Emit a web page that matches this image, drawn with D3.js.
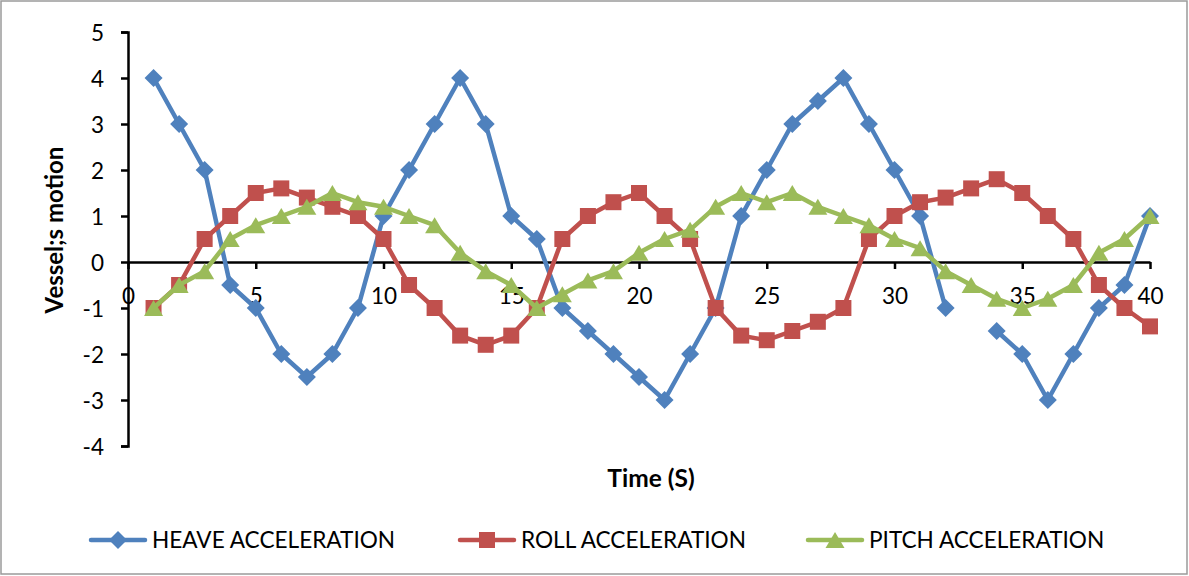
<!DOCTYPE html>
<html>
<head>
<meta charset="utf-8">
<script src="https://cdn.jsdelivr.net/npm/d3@7"></script>
<style>
  html, body { margin: 0; padding: 0; background: #fff; }
  svg { display: block; font-family: Lato, "Open Sans", sans-serif; }
</style>
</head>
<body>
<svg id="chart" width="1189" height="576"></svg>
<script>
// ---- data ----
const time = [1,2,3,4,5,6,7,8,9,10,11,12,13,14,15,16,17,18,19,20,21,22,23,24,25,26,27,28,29,30,31,32,33,34,35,36,37,38,39,40];
const heave = [4,3,2,-0.5,-1,-2,-2.5,-2,-1,1,2,3,4,3,1,0.5,-1,-1.5,-2,-2.5,-3,-2,-1,1,2,3,3.5,4,3,2,1,-1,null,-1.5,-2,-3,-2,-1,-0.5,1];
const roll = [-1,-0.5,0.5,1,1.5,1.6,1.4,1.2,1,0.5,-0.5,-1,-1.6,-1.8,-1.6,-1,0.5,1,1.3,1.5,1,0.5,-1,-1.6,-1.7,-1.5,-1.3,-1,0.5,1,1.3,1.4,1.6,1.8,1.5,1,0.5,-0.5,-1,-1.4];
const pitch = [-1,-0.5,-0.2,0.5,0.8,1,1.2,1.5,1.3,1.2,1,0.8,0.2,-0.2,-0.5,-1,-0.7,-0.4,-0.2,0.2,0.5,0.7,1.2,1.5,1.3,1.5,1.2,1,0.8,0.5,0.3,-0.2,-0.5,-0.8,-1,-0.8,-0.5,0.2,0.5,1];
const seriesNames = ["HEAVE ACCELERATION", "ROLL ACCELERATION", "PITCH ACCELERATION"];
const xTicks = [0,5,10,15,20,25,30,35,40];
const yTicks = [-4,-3,-2,-1,0,1,2,3,4,5];
const xTitle = "Time (S)";
const yTitle = "Vessel;s motion";

// ---- styling / layout ----
const colors = ["#4F81BD", "#C0504D", "#9BBB59"];
const markers = ["diamond", "square", "triangle"];
const svg = d3.select("#chart");

svg.append("rect").attr("x", 1).attr("y", 1).attr("width", 1186).attr("height", 573)
  .attr("fill", "#fff").attr("stroke", "#9a9a9a").attr("stroke-width", 1.5);

const x = d3.scaleLinear().domain([0, 40]).range([128, 1150]);
const y = d3.scaleLinear().domain([-4, 5]).range([446, 32]);
const fmt = d => String(d);

// y axis
const yAxis = svg.append("g").attr("transform", `translate(${x(0)},0)`)
  .call(d3.axisLeft(y).tickValues(yTicks).tickSize(7).tickPadding(17).tickFormat(fmt));
yAxis.select(".domain").attr("stroke", "#000").attr("stroke-width", 2.5);
yAxis.selectAll(".tick line").attr("stroke", "#000").attr("stroke-width", 2.5);
yAxis.selectAll(".tick text").attr("font-size", 22.5).attr("fill", "#000")
  .attr("font-family", "Lato, sans-serif").attr("dy", "0.36em");

// x axis (at y = 0)
const xAxis = svg.append("g").attr("transform", `translate(0,${y(0)})`)
  .call(d3.axisBottom(x).tickValues(xTicks).tickSize(7).tickSizeOuter(0).tickPadding(19).tickFormat(fmt));
xAxis.select(".domain").attr("stroke", "#000").attr("stroke-width", 2.5);
xAxis.selectAll(".tick line").attr("stroke", "#000").attr("stroke-width", 2.5);
xAxis.selectAll(".tick text").attr("font-size", 22.5).attr("fill", "#000")
  .attr("font-family", "Lato, sans-serif");

// marker shapes
function markerPath(kind) {
  if (kind === "diamond") return "M0,-9L9,0L0,9L-9,0Z";
  if (kind === "square") return "M-8,-8L8,-8L8,8L-8,8Z";
  return "M0,-8L9.5,8L-9.5,8Z";
}

const allSeries = [heave, roll, pitch];
const line = d3.line()
  .defined(d => d.v !== null)
  .x(d => x(d.t)).y(d => y(d.v));

allSeries.forEach((vals, i) => {
  const pts = time.map((t, k) => ({ t, v: vals[k] }));
  const g = svg.append("g");
  g.append("path").datum(pts).attr("d", line)
    .attr("fill", "none").attr("stroke", colors[i]).attr("stroke-width", 4.5)
    .attr("stroke-linejoin", "round").attr("stroke-linecap", "round");
  g.selectAll("path.m").data(pts.filter(d => d.v !== null)).join("path")
    .attr("class", "m")
    .attr("transform", d => `translate(${x(d.t)},${y(d.v)})`)
    .attr("d", markerPath(markers[i]))
    .attr("fill", colors[i]);
});

// axis titles
svg.append("text").attr("x", 651).attr("y", 487).attr("text-anchor", "middle")
  .attr("font-weight", "bold").attr("font-size", 24.5).attr("fill", "#000").text(xTitle);
svg.append("text").attr("transform", "translate(63,230) rotate(-90)").attr("text-anchor", "middle")
  .attr("font-weight", "bold").attr("font-size", 24).attr("fill", "#000").text(yTitle);

// legend
const legendX = [91, 460, 808];
const legendY = 540;
seriesNames.forEach((name, i) => {
  const g = svg.append("g").attr("transform", `translate(${legendX[i]},${legendY})`);
  g.append("line").attr("x1", 0).attr("x2", 54).attr("y1", 0).attr("y2", 0)
    .attr("stroke", colors[i]).attr("stroke-width", 4.5).attr("stroke-linecap", "round");
  g.append("path").attr("transform", "translate(27,0)").attr("d", markerPath(markers[i])).attr("fill", colors[i]);
  g.append("text").attr("x", 61).attr("y", 8).attr("font-size", 22.6).attr("fill", "#000").text(name);
});
</script>
</body>
</html>
